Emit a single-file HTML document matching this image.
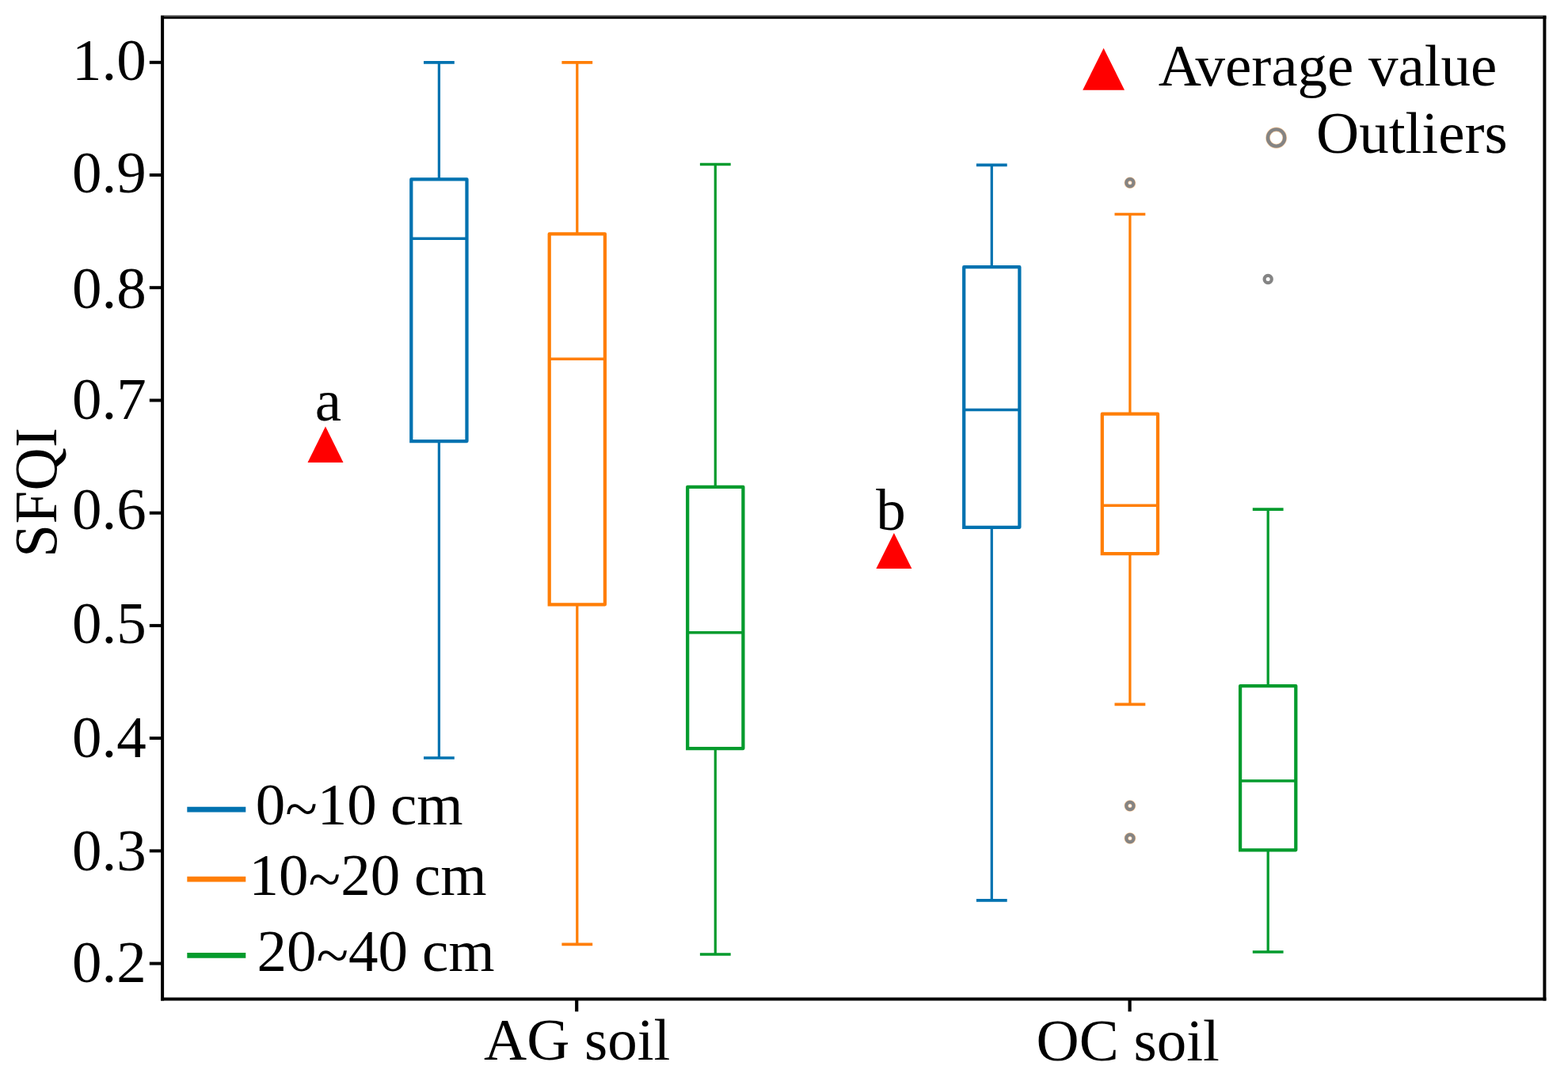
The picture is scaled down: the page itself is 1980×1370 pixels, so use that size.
<!DOCTYPE html>
<html lang="en">
<head>
<meta charset="utf-8">
<title>SFQI box plot</title>
<style>
html,body{margin:0;padding:0;background:#fff;}
body{width:1980px;height:1370px;overflow:hidden;}
svg{display:block;}
text{font-family:"Liberation Serif", serif;font-size:75px;fill:#000;}
</style>
</head>
<body>
<svg width="1980" height="1370" viewBox="0 0 1980 1370">
<rect width="1980" height="1370" fill="#fff"/>
<g id="frame" fill="none" stroke="#000">
<path d="M203.1 20H1952.4" stroke="#808080" stroke-width="2"/>
<path d="M205.1 20.0V1263.4M1950.4 20.0V1263.4" stroke-width="4"/>
<path d="M203.1 22.3H1952.4" stroke-width="3"/>
<path d="M203.1 1261.5H1952.4" stroke-width="3.9"/>
</g>
<g id="yaxis">
<line x1="188.8" y1="78.8" x2="205.1" y2="78.8" stroke="#000" stroke-width="4"/>
<text transform="translate(184.7 101.0) scale(1 0.977)" text-anchor="end">1.0</text>
<line x1="188.8" y1="221.0" x2="205.1" y2="221.0" stroke="#000" stroke-width="4"/>
<text transform="translate(184.7 242.8) scale(1 0.977)" text-anchor="end">0.9</text>
<line x1="188.8" y1="363.2" x2="205.1" y2="363.2" stroke="#000" stroke-width="4"/>
<text transform="translate(184.7 388.6) scale(1 0.977)" text-anchor="end">0.8</text>
<line x1="188.8" y1="505.5" x2="205.1" y2="505.5" stroke="#000" stroke-width="4"/>
<text transform="translate(184.7 528.8) scale(1 0.977)" text-anchor="end">0.7</text>
<line x1="188.8" y1="647.7" x2="205.1" y2="647.7" stroke="#000" stroke-width="4"/>
<text transform="translate(184.7 667.8) scale(1 0.977)" text-anchor="end">0.6</text>
<line x1="188.8" y1="789.9" x2="205.1" y2="789.9" stroke="#000" stroke-width="4"/>
<text transform="translate(184.7 812.3) scale(1 0.977)" text-anchor="end">0.5</text>
<line x1="188.8" y1="932.1" x2="205.1" y2="932.1" stroke="#000" stroke-width="4"/>
<text transform="translate(184.7 955.5) scale(1 0.977)" text-anchor="end">0.4</text>
<line x1="188.8" y1="1074.4" x2="205.1" y2="1074.4" stroke="#000" stroke-width="4"/>
<text transform="translate(184.7 1098.8) scale(1 0.977)" text-anchor="end">0.3</text>
<line x1="188.8" y1="1216.6" x2="205.1" y2="1216.6" stroke="#000" stroke-width="4"/>
<text transform="translate(184.7 1239.8) scale(1 0.977)" text-anchor="end">0.2</text>
</g>
<g id="xaxis">
<line x1="728.2" y1="1261.5" x2="728.2" y2="1277.3" stroke="#000" stroke-width="4.2"/>
<text x="728.7" y="1337.5" text-anchor="middle">AG soil</text>
<line x1="1426.6" y1="1261.5" x2="1426.6" y2="1277.3" stroke="#000" stroke-width="4.2"/>
<text x="1424.2" y="1338.9" text-anchor="middle">OC soil</text>
</g>
<text transform="translate(71.2 621.6) rotate(-90) scale(1 1.024)" text-anchor="middle" style="letter-spacing:0.4px">SFQI</text>
<g id="boxes" fill="none">
<g stroke="#0172B0">
<path d="M554.4 78.8V226.4M554.4 557.0V957.0" stroke-width="3.25"/>
<path d="M535.0 78.8H573.8M535.0 957.0H573.8" stroke-width="3.65"/>
<path d="M519.3 557.0H589.5V226.4H519.3V557.0" stroke-width="4.25" stroke-linejoin="round" stroke-linecap="square"/>
<path d="M519.3 301.2H589.5" stroke-width="3.55"/>
</g>
<g stroke="#FF7E06">
<path d="M728.8 78.8V295.3M728.8 763.3V1192.3" stroke-width="3.25"/>
<path d="M709.4 78.8H748.2M709.4 1192.3H748.2" stroke-width="3.65"/>
<path d="M693.7 763.3H763.9V295.3H693.7V763.3" stroke-width="4.25" stroke-linejoin="round" stroke-linecap="square"/>
<path d="M693.7 453.2H763.9" stroke-width="3.55"/>
</g>
<g stroke="#049B2D">
<path d="M903.3 207.5V614.8M903.3 945.0V1205.0" stroke-width="3.25"/>
<path d="M883.9 207.5H922.7M883.9 1205.0H922.7" stroke-width="3.65"/>
<path d="M868.2 945.0H938.4V614.8H868.2V945.0" stroke-width="4.25" stroke-linejoin="round" stroke-linecap="square"/>
<path d="M868.2 798.8H938.4" stroke-width="3.55"/>
</g>
<g stroke="#0172B0">
<path d="M1252.3 208.4V337.2M1252.3 665.8V1136.9" stroke-width="3.25"/>
<path d="M1232.9 208.4H1271.7M1232.9 1136.9H1271.7" stroke-width="3.65"/>
<path d="M1217.2 665.8H1287.4V337.2H1217.2V665.8" stroke-width="4.25" stroke-linejoin="round" stroke-linecap="square"/>
<path d="M1217.2 517.5H1287.4" stroke-width="3.55"/>
</g>
<g stroke="#FF7E06">
<path d="M1426.9 270.5V522.7M1426.9 699.0V889.3" stroke-width="3.25"/>
<path d="M1407.5 270.5H1446.3M1407.5 889.3H1446.3" stroke-width="3.65"/>
<path d="M1391.8 699.0H1462.0V522.7H1391.8V699.0" stroke-width="4.25" stroke-linejoin="round" stroke-linecap="square"/>
<path d="M1391.8 638.3H1462.0" stroke-width="3.55"/>
</g>
<circle cx="1426.9" cy="230.8" r="4.6" stroke="#FF7E06" stroke-opacity="0.45" stroke-width="5.4"/>
<circle cx="1426.9" cy="230.8" r="4.6" stroke="#848484" stroke-width="4.2"/>
<circle cx="1426.9" cy="1017.5" r="4.6" stroke="#FF7E06" stroke-opacity="0.45" stroke-width="5.4"/>
<circle cx="1426.9" cy="1017.5" r="4.6" stroke="#848484" stroke-width="4.2"/>
<circle cx="1426.9" cy="1058.5" r="4.6" stroke="#FF7E06" stroke-opacity="0.45" stroke-width="5.4"/>
<circle cx="1426.9" cy="1058.5" r="4.6" stroke="#848484" stroke-width="4.2"/>
<g stroke="#049B2D">
<path d="M1601.2 643.1V866.0M1601.2 1073.3V1202.0" stroke-width="3.25"/>
<path d="M1581.8 643.1H1620.6M1581.8 1202.0H1620.6" stroke-width="3.65"/>
<path d="M1566.1 1073.3H1636.3V866.0H1566.1V1073.3" stroke-width="4.25" stroke-linejoin="round" stroke-linecap="square"/>
<path d="M1566.1 986.0H1636.3" stroke-width="3.55"/>
</g>
<circle cx="1601.2" cy="352.5" r="4.6" stroke="#848484" stroke-width="4.2"/>
</g>
<g id="means">
<polygon points="388.5,584.0 433.5,584.0 411.0,538.6" fill="#FF0000"/>
<polygon points="1106.4,718.1 1151.4,718.1 1128.9,673.1" fill="#FF0000"/>
<text x="414.4" y="531.0" text-anchor="middle">a</text>
<text x="1125" y="668.7" text-anchor="middle">b</text>
</g>
<g id="legend-top">
<polygon points="1367.2,113.7 1420.0,113.7 1393.6,60.8" fill="#FF0000"/>
<text x="1462.7" y="107.5" dx="0 -1.9">Average value</text>
<circle cx="1611.6" cy="174" r="10.6" fill="none" stroke="#FF7E06" stroke-opacity="0.4" stroke-width="5.6"/>
<circle cx="1611.6" cy="174" r="10.6" fill="none" stroke="#848484" stroke-width="4.4"/>
<text x="1662" y="192.6">Outliers</text>
</g>
<g id="legend-bottom">
<line x1="236.3" y1="1022.1" x2="310.3" y2="1022.1" stroke="#0172B0" stroke-width="6.8"/>
<text transform="translate(322.7 1041.2) scale(1 0.977)" dx="0 0 0 0 0 -1.5" dy="0 5.4 -5.4">0~10 cm</text>
<line x1="236.3" y1="1110.1" x2="310.3" y2="1110.1" stroke="#FF7E06" stroke-width="6.8"/>
<text transform="translate(314.6 1130.1) scale(1 0.977)" dx="0 0 0 0 0 0 -0.9" dy="0 0 5.4 -5.4">10~20 cm</text>
<line x1="236.3" y1="1206.3" x2="310.3" y2="1206.3" stroke="#049B2D" stroke-width="6.8"/>
<text transform="translate(324.5 1225.5) scale(1 0.977)" dx="0 0 0 0 0 0 -0.8" dy="0 0 5.4 -5.4">20~40 cm</text>
</g>
</svg>
</body>
</html>
